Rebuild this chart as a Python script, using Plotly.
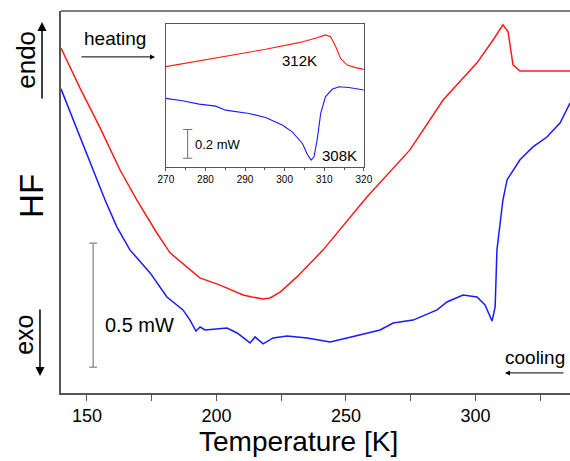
import plotly.graph_objects as go

# ---- main plot data (Temperature [K], heat flow [mW, relative]) ----
heat_T = [140.0, 147.3, 155.1, 162.8, 169.3, 177.0, 182.1, 188.6, 193.6, 201.4, 210.3, 213.7,
          218.0, 220.7, 224.6, 231.1, 237.3, 241.2, 258.1, 274.7, 287.5, 300.6, 306.8, 310.6,
          312.6, 314.5, 317.2, 323.8, 336.5]
heat_HF = [1.391, 1.230, 1.069, 0.899, 0.778, 0.645, 0.565, 0.508, 0.464, 0.435, 0.395, 0.387,
           0.379, 0.383, 0.407, 0.468, 0.536, 0.577, 0.790, 0.980, 1.181, 1.331, 1.423, 1.484,
           1.456, 1.323, 1.298, 1.298, 1.298]

cool_T = [140.0, 147.3, 157.0, 161.6, 166.6, 174.4, 180.9, 187.1, 189.8, 192.1, 193.7, 195.6,
          204.1, 208.0, 213.0, 214.9, 218.0, 221.9, 227.3, 235.0, 243.9, 250.4, 258.1, 263.2,
          268.2, 275.9, 285.2, 289.0, 295.2, 300.6, 303.7, 306.4, 307.6, 308.3, 310.6, 312.2,
          317.2, 322.2, 327.6, 332.7, 336.5]
cool_HF = [1.226, 1.032, 0.778, 0.669, 0.577, 0.484, 0.387, 0.335, 0.294, 0.250, 0.266, 0.254,
           0.262, 0.242, 0.202, 0.226, 0.198, 0.222, 0.230, 0.222, 0.206, 0.222, 0.242, 0.254,
           0.282, 0.294, 0.335, 0.367, 0.395, 0.387, 0.355, 0.290, 0.347, 0.577, 0.778, 0.859,
           0.940, 0.992, 1.032, 1.089, 1.169]

# ---- inset data ----
in_heat_T = [270.0, 278.4, 286.8, 295.2, 303.6, 307.8, 310.3, 311.6, 312.9, 314.1, 315.8, 317.9, 320.0]
in_heat_HF = [0.698, 0.737, 0.779, 0.819, 0.865, 0.895, 0.919, 0.907, 0.837, 0.756, 0.709, 0.691, 0.679]

in_cool_T = [270.0, 274.2, 278.4, 282.6, 285.1, 288.5, 291.0, 295.2, 299.4, 301.9, 304.5, 305.7,
             306.7, 307.4, 308.2, 309.1, 310.3, 312.0, 313.7, 316.2, 320.0]
in_cool_HF = [0.477, 0.460, 0.437, 0.423, 0.395, 0.384, 0.372, 0.344, 0.291, 0.244, 0.163, 0.088,
              0.047, 0.070, 0.186, 0.372, 0.488, 0.540, 0.558, 0.553, 0.535]

main_ticks = [150, 200, 250, 300]
main_minor_ticks = [175, 225, 275, 325]
inset_ticks = [270, 280, 290, 300, 310, 320]

RED = "#ff1a1a"
BLUE = "#1a1aff"
AX = "#555555"
FONT = "Liberation Sans, Arial, sans-serif"

fig = go.Figure()
fig.add_trace(go.Scatter(x=heat_T, y=heat_HF, mode="lines", line=dict(color=RED, width=1.5),
                         xaxis="x", yaxis="y", showlegend=False, hoverinfo="skip"))
fig.add_trace(go.Scatter(x=cool_T, y=cool_HF, mode="lines", line=dict(color=BLUE, width=1.5),
                         xaxis="x", yaxis="y", showlegend=False, hoverinfo="skip"))
fig.add_trace(go.Scatter(x=in_heat_T, y=in_heat_HF, mode="lines", line=dict(color=RED, width=1.1),
                         xaxis="x2", yaxis="y2", showlegend=False, hoverinfo="skip"))
fig.add_trace(go.Scatter(x=in_cool_T, y=in_cool_HF, mode="lines", line=dict(color=BLUE, width=1.1),
                         xaxis="x2", yaxis="y2", showlegend=False, hoverinfo="skip"))

# scale bars
fig.add_trace(go.Scatter(x=[152.4, 152.4], y=[0.104, 0.604], mode="lines",
                         line=dict(color="#888888", width=1.3), xaxis="x", yaxis="y",
                         showlegend=False, hoverinfo="skip"))
fig.add_trace(go.Scatter(x=[150.9, 153.9, None, 150.9, 153.9], y=[0.104, 0.104, None, 0.604, 0.604],
                         mode="lines", line=dict(color="#888888", width=1.3), xaxis="x", yaxis="y",
                         showlegend=False, hoverinfo="skip"))
fig.add_trace(go.Scatter(x=[275.5, 275.5, None, 274.3, 276.7, None, 274.3, 276.7],
                         y=[0.060, 0.260, None, 0.060, 0.060, None, 0.260, 0.260],
                         mode="lines", line=dict(color="#777777", width=1.1), xaxis="x2", yaxis="y2",
                         showlegend=False, hoverinfo="skip"))

fig.update_layout(
    width=570, height=461,
    margin=dict(l=61, r=0, t=11, b=68, autoexpand=False),
    paper_bgcolor="white", plot_bgcolor="white",
    font=dict(family=FONT, color="black"),
    xaxis=dict(range=[140, 336.5], tickvals=main_ticks, automargin=False,
               ticks="outside", ticklen=6, tickwidth=1.2, tickcolor=AX,
               minor=dict(tickvals=main_minor_ticks, ticks="outside", ticklen=6, tickwidth=1.2,
                          tickcolor=AX, showgrid=False),
               showline=True, linecolor=AX, linewidth=1.5, showgrid=False, zeroline=False,
               tickfont=dict(size=18, family=FONT)),
    yaxis=dict(range=[0, 1.54], showticklabels=False, ticks="", showline=True, linecolor=AX,
               linewidth=1.5, showgrid=False, zeroline=False, automargin=False),
    xaxis2=dict(domain=[0.206, 0.595], anchor="y2", range=[270, 320], tickvals=inset_ticks,
                automargin=False, ticks="outside", ticklen=3, tickcolor=AX,
                minor=dict(dtick=5, ticks="outside", ticklen=2, tickcolor=AX, showgrid=False),
                showline=True, mirror=True, linecolor=AX, linewidth=1, showgrid=False, zeroline=False,
                tickfont=dict(size=10, family=FONT)),
    yaxis2=dict(domain=[0.592, 0.966], anchor="x2", range=[0, 0.995], showticklabels=False, ticks="",
                automargin=False, showline=True, mirror=True, linecolor=AX, linewidth=1,
                showgrid=False, zeroline=False),
    shapes=[dict(type="line", xref="paper", yref="paper", x0=0, x1=1, y0=1, y1=1,
                 line=dict(color=AX, width=1.5))],
)

ann = []
# axis title and side labels
ann.append(dict(text="Temperature [K]", xref="paper", yref="paper", x=0.466, y=-0.128,
                showarrow=False, font=dict(size=28, family=FONT), xanchor="center", yanchor="middle"))
ann.append(dict(text="HF", xref="paper", yref="paper", x=-0.057, y=0.516, textangle=-90,
                showarrow=False, font=dict(size=33, family=FONT), xanchor="center", yanchor="middle"))
ann.append(dict(text="endo", xref="paper", yref="paper", x=-0.069, y=0.872, textangle=-90,
                showarrow=False, font=dict(size=26, family=FONT), xanchor="center", yanchor="middle"))
ann.append(dict(text="exo", xref="paper", yref="paper", x=-0.073, y=0.152, textangle=-90,
                showarrow=False, font=dict(size=25, family=FONT), xanchor="center", yanchor="middle"))
# endo / exo arrows
ann.append(dict(text="", xref="paper", yref="paper", x=-0.0373, y=0.971, ax=0, ay=78,
                showarrow=True, arrowhead=2, arrowsize=1.2, arrowwidth=1.5, arrowcolor="black"))
ann.append(dict(text="", xref="paper", yref="paper", x=-0.0413, y=0.0445, ax=0, ay=-68,
                showarrow=True, arrowhead=2, arrowsize=1.2, arrowwidth=1.5, arrowcolor="black"))
# heating / cooling
ann.append(dict(text="heating", xref="x", yref="y", x=160.8, y=1.431, showarrow=False,
                font=dict(size=19, family=FONT), xanchor="center", yanchor="middle"))
ann.append(dict(text="", xref="x", yref="y", x=176.3, y=1.355, ax=-75, ay=0, showarrow=True,
                arrowhead=2, arrowsize=1, arrowwidth=1, arrowcolor="black"))
ann.append(dict(text="cooling", xref="x", yref="y", x=323.0, y=0.145, showarrow=False,
                font=dict(size=19, family=FONT), xanchor="center", yanchor="middle"))
ann.append(dict(text="", xref="x", yref="y", x=311.4, y=0.081, ax=60, ay=0, showarrow=True,
                arrowhead=2, arrowsize=1, arrowwidth=1, arrowcolor="black"))
ann.append(dict(text="0.5 mW", xref="x", yref="y", x=156.2, y=0.274, showarrow=False,
                font=dict(size=20, family=FONT), xanchor="left", yanchor="middle"))
# inset labels
ann.append(dict(text="312K", xref="x2", yref="y2", x=303.8, y=0.744, showarrow=False,
                font=dict(size=15, family=FONT), xanchor="center", yanchor="middle"))
ann.append(dict(text="308K", xref="x2", yref="y2", x=313.9, y=0.081, showarrow=False,
                font=dict(size=15, family=FONT), xanchor="center", yanchor="middle"))
ann.append(dict(text="0.2 mW", xref="x2", yref="y2", x=276.8, y=0.158, showarrow=False,
                font=dict(size=13, family=FONT), xanchor="left", yanchor="middle"))
fig.update_layout(annotations=ann)

fig.write_html("out.html", config={"displayModeBar": False},
               post_script="document.body.style.margin='0';")
